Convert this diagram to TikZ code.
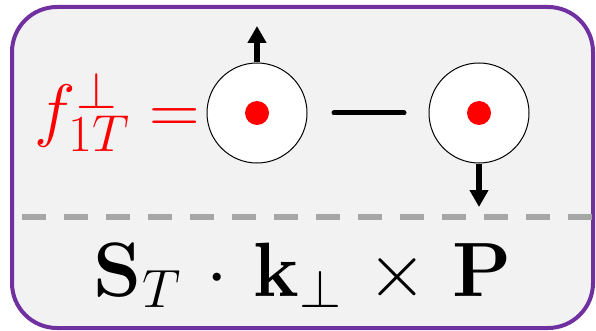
\documentclass[tikz,border=0pt]{standalone}
\usepackage{fix-cm}
\usetikzlibrary{arrows.meta}

\definecolor{boxpurple}{RGB}{112,48,160}
\definecolor{boxfill}{RGB}{242,242,242}
\definecolor{dashgray}{RGB}{166,166,166}
\DeclareMathSizes{70}{70}{52}{40}

\tikzset{
  frame/.style={draw=boxpurple, fill=boxfill, line width=4pt, rounded corners=45pt},
  divider/.style={draw=dashgray, line width=6pt, dash pattern=on 24pt off 18pt},
  spin/.style={circle, draw, fill=white, line width=1pt, minimum size=100pt, inner sep=0pt},
  core/.style={circle, fill=red, minimum size=24pt, inner sep=0pt},
  spinarrow/.style={line width=6pt, -{Triangle[length=17pt,width=18pt]}},
  bigmath/.style={inner sep=0pt, font=\fontsize{#1}{#1}\selectfont}
}

\begin{document}
\begin{tikzpicture}[x=1pt,y=-1pt]
\useasboundingbox (0,0) rectangle (596,331);
\draw[frame] (12,7) rectangle (593,328);

% spins
\node[spin] (up) at (257,113) {};
\node[spin] (down) at (479,113) {};
\node[core] (upcore) at (up.center) {};
\node[core] (downcore) at (down.center) {};

\coordinate (uptip) at (257,26);
\coordinate (downtip) at (479,207);
\draw[spinarrow] (up.north) -- (uptip);
\draw[spinarrow] (down.south) -- (downtip);

% minus sign
\coordinate (minusl) at (334,113);
\coordinate (minusr) at (404,113);
\draw[line width=5pt, line cap=round] (minusl) -- (minusr);

\node[bigmath=70, text=red, anchor=base east] (sivers) at (200,134) {$f_{1T}^{\perp} =$};

\draw[divider] (22,217) -- (592,217);

\node[bigmath=77, anchor=base] (spincorr) at (303,296)
  {$\medmuskip=6mu \mathbf{S}_T\cdot\mathbf{k}_\perp\times\mathbf{P}$};
\end{tikzpicture}
\end{document}
